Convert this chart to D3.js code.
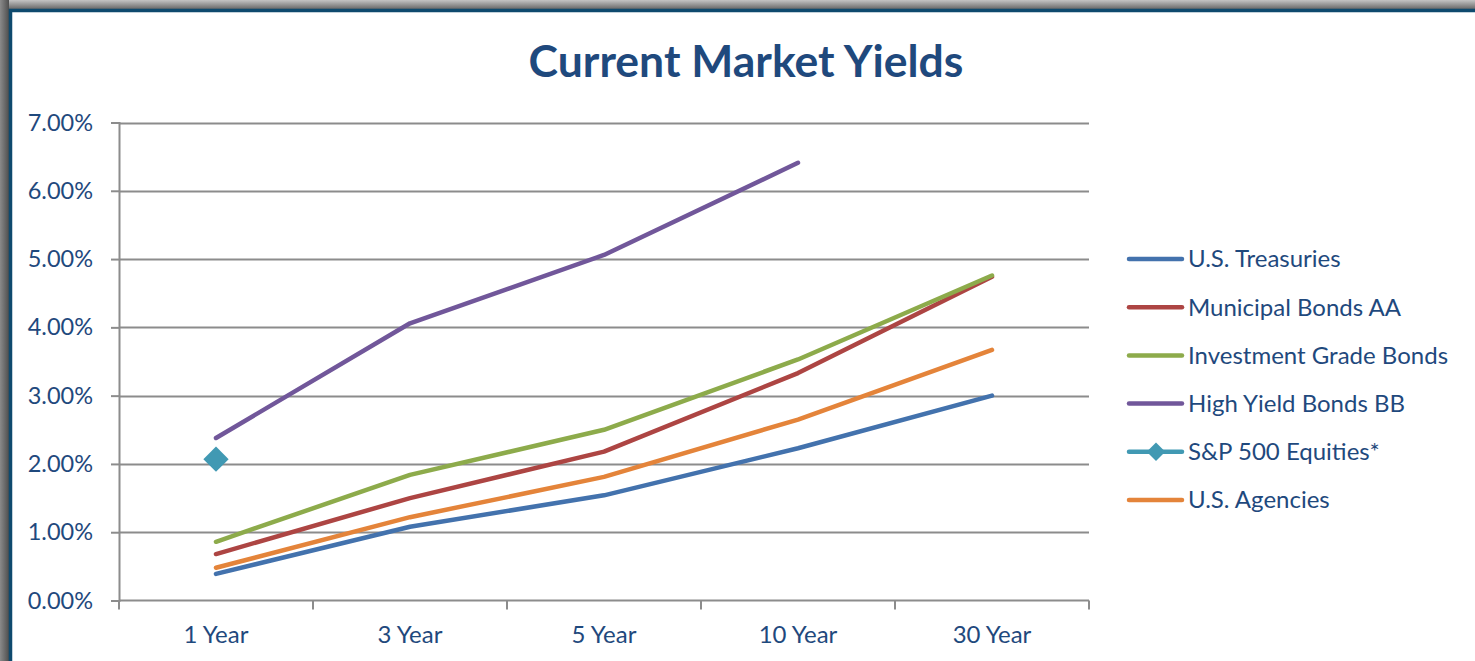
<!DOCTYPE html>
<html>
<head>
<meta charset="utf-8">
<script src="https://cdn.jsdelivr.net/npm/d3@7"></script>
<style>
  html, body { margin: 0; padding: 0; background: #fff; }
  svg { display: block; }
</style>
</head>
<body>
<svg id="chart" width="1475" height="661"></svg>
<script>
// Yield data (percent) by maturity
const maturities = ["1 Year", "3 Year", "5 Year", "10 Year", "30 Year"];
const treasuries = [0.39, 1.08, 1.54, 2.23, 3.00];
const municipalAA = [0.68, 1.50, 2.18, 3.33, 4.74];
const investmentGrade = [0.86, 1.84, 2.50, 3.53, 4.76];
const highYieldBB = [2.38, 4.06, 5.06, 6.41, null];
const sp500 = [2.07, null, null, null, null];
const agencies = [0.48, 1.22, 1.81, 2.65, 3.67];
const yTicks = [0, 1, 2, 3, 4, 5, 6, 7];

const series = [
  { name: "U.S. Treasuries", values: treasuries, color: "#4372ad" },
  { name: "Municipal Bonds AA", values: municipalAA, color: "#ad4543" },
  { name: "Investment Grade Bonds", values: investmentGrade, color: "#8dab4b" },
  { name: "High Yield Bonds BB", values: highYieldBB, color: "#71579a" },
  { name: "S&P 500 Equities*", values: sp500, color: "#4199b3", marker: true },
  { name: "U.S. Agencies", values: agencies, color: "#e4843a" }
];

const textColor = "#1f497d";
const gridColor = "#8c8c8c";
const font = "Lato, 'Open Sans', sans-serif";

const svg = d3.select("#chart");
const W = 1475, H = 661;

// Outer frame: shaded edge and dark border
const defs = svg.append("defs");
const gTop = defs.append("linearGradient").attr("id", "shTop").attr("x1", 0).attr("y1", 0).attr("x2", 0).attr("y2", 1);
gTop.append("stop").attr("offset", "0%").attr("stop-color", "#c4c4c4");
gTop.append("stop").attr("offset", "100%").attr("stop-color", "#5e5e5e");
const gLeft = defs.append("linearGradient").attr("id", "shLeft").attr("x1", 0).attr("y1", 0).attr("x2", 1).attr("y2", 0);
gLeft.append("stop").attr("offset", "0%").attr("stop-color", "#8a8a8a");
gLeft.append("stop").attr("offset", "100%").attr("stop-color", "#4e4e4e");

svg.append("rect").attr("x", 0).attr("y", 0).attr("width", W).attr("height", H).attr("fill", "#fff");
svg.append("rect").attr("x", 0).attr("y", 0).attr("width", W).attr("height", 10).attr("fill", "url(#shTop)");
svg.append("rect").attr("x", 0).attr("y", 0).attr("width", 9).attr("height", H).attr("fill", "url(#shLeft)");
svg.append("rect").attr("x", 10.5).attr("y", 10.5).attr("width", W + 20).attr("height", H + 20)
  .attr("fill", "#fff").attr("stroke", "#0e4a6e").attr("stroke-width", 3.5);

// Title
svg.append("text")
  .attr("x", 746).attr("y", 77)
  .attr("text-anchor", "middle")
  .attr("font-family", font).attr("font-weight", "bold").attr("font-size", 44.5)
  .attr("fill", textColor)
  .text("Current Market Yields");

// Scales
const plot = { left: 119, right: 1089, top: 122.5, bottom: 600.5 };
const x = d3.scaleBand().domain(maturities).range([plot.left, plot.right]);
const y = d3.scaleLinear().domain([0, 7]).range([plot.bottom, plot.top]);

// Horizontal gridlines
svg.append("g").selectAll("line").data(yTicks.filter(d => d > 0)).join("line")
  .attr("x1", plot.left).attr("x2", plot.right)
  .attr("y1", d => Math.round(y(d)) + 0.5).attr("y2", d => Math.round(y(d)) + 0.5)
  .attr("stroke", gridColor).attr("stroke-width", 2);

// Y axis
const yAxis = svg.append("g").attr("transform", `translate(${plot.left},0)`)
  .call(d3.axisLeft(y).tickValues(yTicks).tickFormat(d => d3.format(".2f")(d) + "%").tickSize(8).tickPadding(18));
yAxis.select(".domain").attr("stroke", gridColor).attr("stroke-width", 2);
yAxis.selectAll(".tick line").attr("stroke", gridColor).attr("stroke-width", 2);
yAxis.selectAll("text").attr("font-family", font).attr("font-size", 23.5).attr("fill", textColor);

// X axis with ticks at category boundaries
const xAxisG = svg.append("g").attr("transform", `translate(0,${plot.bottom})`);
xAxisG.append("line").attr("x1", plot.left).attr("x2", plot.right)
  .attr("stroke", gridColor).attr("stroke-width", 2);
const boundaries = maturities.map(m => x(m)).concat([x(maturities[maturities.length - 1]) + x.bandwidth()]);
xAxisG.selectAll("line.tk").data(boundaries).join("line").attr("class", "tk")
  .attr("x1", d => d).attr("x2", d => d).attr("y1", 0).attr("y2", 9)
  .attr("stroke", gridColor).attr("stroke-width", 2);
xAxisG.selectAll("text").data(maturities).join("text")
  .attr("x", d => x(d) + x.bandwidth() / 2).attr("y", 42.5)
  .attr("text-anchor", "middle")
  .attr("font-family", font).attr("font-size", 24).attr("fill", textColor)
  .text(d => d);

// Series lines
const cx = i => x(maturities[i]) + x.bandwidth() / 2;
const line = d3.line()
  .defined(d => d.v != null)
  .x(d => cx(d.i)).y(d => y(d.v));

series.forEach(s => {
  const pts = s.values.map((v, i) => ({ v, i }));
  svg.append("path").datum(pts)
    .attr("d", line)
    .attr("fill", "none").attr("stroke", s.color).attr("stroke-width", 4.5)
    .attr("stroke-linecap", "round").attr("stroke-linejoin", "round");
  if (s.marker) {
    svg.append("g").selectAll("path").data(pts.filter(d => d.v != null)).join("path")
      .attr("d", d3.symbol().type(d3.symbolSquare).size(320)())
      .attr("transform", d => `translate(${cx(d.i)},${y(d.v)}) rotate(45)`)
      .attr("fill", s.color);
  }
});

// Legend
const legend = svg.append("g").attr("transform", "translate(1129,259)");
series.forEach((s, i) => {
  const g = legend.append("g").attr("transform", `translate(0,${i * 48.2})`);
  g.append("line").attr("x1", 0).attr("x2", 53).attr("y1", 0).attr("y2", 0)
    .attr("stroke", s.color).attr("stroke-width", 4.5).attr("stroke-linecap", "round");
  if (s.marker) {
    g.append("path").attr("d", d3.symbol().type(d3.symbolSquare).size(170)())
      .attr("transform", "translate(27,0) rotate(45)").attr("fill", s.color);
  }
  g.append("text").attr("x", 59).attr("y", 0).attr("dy", "0.35em")
    .attr("font-family", font).attr("font-size", 24).attr("fill", textColor)
    .text(s.name);
});
</script>
</body>
</html>
